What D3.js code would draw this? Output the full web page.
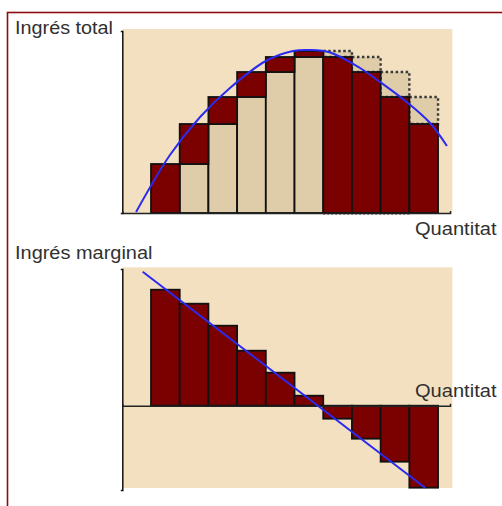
<!DOCTYPE html>
<html>
<head>
<meta charset="utf-8">
<script src="https://cdn.jsdelivr.net/npm/d3@7"></script>
<style>
  html, body { margin: 0; padding: 0; background: #ffffff; }
  svg { display: block; }
  text { font-family: "Liberation Sans", Arial, sans-serif; fill: #303030; }
</style>
</head>
<body>
<svg id="chart" width="502" height="506"></svg>
<script>
// ---- data ----
const quantities = [1, 2, 3, 4, 5, 6, 7, 8, 9, 10];
const totalRevenue = [49, 89, 116, 141, 156, 162, 156, 141, 116, 89];
const marginalRevenue = [116, 102, 80, 55, 33, 10, -13, -33, -56, -82];
// total revenue curve
const trCurveQ = [0.48, 1.66, 2.71, 3.75, 5.0, 5.95, 6.54, 7.24, 8.28, 8.98, 9.95, 10.72, 11.31];
const trCurveV = [1, 58, 96, 125, 152, 162, 163, 160.5, 145, 131, 110, 90, 67];
// marginal revenue line
const mrLineQ = [0.71, 10.55];
const mrLineV = [134, -82];
const labels = { topY: "Ingrés total", bottomY: "Ingrés marginal", x: "Quantitat" };

// ---- colours ----
const panelColor = "#f3e0c0";
const tanColor = "#dfcca8";
const darkRed = "#7b0000";
const blue = "#2a2af0";

const svg = d3.select("#chart");

// frame
svg.append("rect").attr("x", 7.5).attr("y", 12.5).attr("width", 600).attr("height", 600)
  .attr("fill", "none").attr("stroke", "#8b0d0d").attr("stroke-width", 1.6);

// ---- scales ----
const x = d3.scaleLinear().domain([0, 11.5]).range([122.3, 452.4]);
const yTop = d3.scaleLinear().domain([0, 180]).range([213, 33]);
const yBot = d3.scaleLinear().domain([-84, 138]).range([489.7, 267.7]);

// ================= TOP CHART =================
const gTop = svg.append("g");
gTop.append("rect").attr("x", x(0)).attr("y", 29).attr("width", x(11.5) - x(0)).attr("height", yTop(0) - 29)
  .attr("fill", panelColor);

const prev = i => (i === 0 ? 0 : totalRevenue[i - 1]);
const topData = quantities.map((q, i) => ({ q, t: totalRevenue[i], p: prev(i) }));

// dashed boxes (previous total, when total falls)
const falling = topData.filter(d => d.t < d.p);
gTop.selectAll("rect.ghost").data(falling).enter().append("rect").attr("class", "ghost")
  .attr("x", d => x(d.q)).attr("width", d => x(d.q + 1) - x(d.q))
  .attr("y", d => yTop(d.p)).attr("height", d => yTop(d.t) - yTop(d.p))
  .attr("fill", tanColor)
  .attr("stroke", "#3a3a3a").attr("stroke-width", 2.4).attr("stroke-dasharray", "2.5,2.5");
// dotted traces below baseline
gTop.append("line").attr("x1", x(falling[0].q)).attr("x2", x(falling[falling.length - 1].q))
  .attr("y1", yTop(0) + 1.5).attr("y2", yTop(0) + 1.5)
  .attr("stroke", "#999").attr("stroke-width", 1.2).attr("stroke-dasharray", "2,2");

// tan parts (previous total, when total rises)
const rising = topData.filter(d => d.t >= d.p);
gTop.selectAll("rect.base").data(rising.filter(d => d.p > 0)).enter().append("rect").attr("class", "base")
  .attr("x", d => x(d.q)).attr("width", d => x(d.q + 1) - x(d.q))
  .attr("y", d => yTop(d.p)).attr("height", d => yTop(0) - yTop(d.p))
  .attr("fill", tanColor).attr("stroke", "#111").attr("stroke-width", 1.8);
// dark red increments
gTop.selectAll("rect.inc").data(rising).enter().append("rect").attr("class", "inc")
  .attr("x", d => x(d.q)).attr("width", d => x(d.q + 1) - x(d.q))
  .attr("y", d => yTop(d.t)).attr("height", d => yTop(d.p) - yTop(d.t))
  .attr("fill", darkRed).attr("stroke", "#111").attr("stroke-width", 1.8);
// dark red full bars when falling
gTop.selectAll("rect.full").data(falling).enter().append("rect").attr("class", "full")
  .attr("x", d => x(d.q)).attr("width", d => x(d.q + 1) - x(d.q))
  .attr("y", d => yTop(d.t)).attr("height", d => yTop(0) - yTop(d.t))
  .attr("fill", darkRed).attr("stroke", "#111").attr("stroke-width", 1.8);

// axes
gTop.append("g").attr("transform", `translate(${x(0)},0)`)
  .call(d3.axisLeft(d3.scaleLinear().domain([0, 1]).range([yTop(0), 31])).tickValues([]).tickSizeOuter(1.5))
  .call(g => g.select(".domain").attr("stroke", "#111").attr("stroke-width", 1.5));
gTop.append("g").attr("transform", `translate(0,${yTop(0)})`)
  .call(d3.axisBottom(d3.scaleLinear().domain([0, 1]).range([x(0), 450])).tickValues([]).tickSizeOuter(-2))
  .call(g => g.select(".domain").attr("stroke", "#222").attr("stroke-width", 1.5));

// curve
const curvePts = trCurveQ.map((q, i) => [x(q), yTop(trCurveV[i])]);
gTop.append("path").attr("d", d3.line().curve(d3.curveCatmullRom)(curvePts))
  .attr("fill", "none").attr("stroke", blue).attr("stroke-width", 2);

// labels
gTop.append("text").attr("x", 15).attr("y", 34).attr("font-size", 17.5)
  .attr("textLength", 98).attr("lengthAdjust", "spacingAndGlyphs").text(labels.topY);
gTop.append("text").attr("x", 415).attr("y", 235).attr("font-size", 17.5)
  .attr("textLength", 81.5).attr("lengthAdjust", "spacingAndGlyphs").text(labels.x);

// ================= BOTTOM CHART =================
const gBot = svg.append("g");
gBot.append("rect").attr("x", x(0)).attr("y", 267.3).attr("width", x(11.5) - x(0)).attr("height", 488 - 267.3)
  .attr("fill", panelColor);

const botData = quantities.map((q, i) => ({ q, v: marginalRevenue[i] }));
gBot.selectAll("rect.mr").data(botData).enter().append("rect").attr("class", "mr")
  .attr("x", d => x(d.q)).attr("width", d => x(d.q + 1) - x(d.q))
  .attr("y", d => yBot(Math.max(0, d.v))).attr("height", d => Math.abs(yBot(d.v) - yBot(0)))
  .attr("fill", darkRed).attr("stroke", "#111").attr("stroke-width", 1.8);

gBot.append("g").attr("transform", `translate(${x(0)},0)`)
  .call(d3.axisLeft(d3.scaleLinear().domain([0, 1]).range([490, 269])).tickValues([]).tickSizeOuter(1.5))
  .call(g => g.select(".domain").attr("stroke", "#111").attr("stroke-width", 1.5));
gBot.append("g").attr("transform", `translate(0,${yBot(0)})`)
  .call(d3.axisBottom(d3.scaleLinear().domain([0, 1]).range([x(0), 450])).tickValues([]).tickSizeOuter(-2))
  .call(g => g.select(".domain").attr("stroke", "#222").attr("stroke-width", 1.5));

gBot.append("path").attr("d", d3.line()(mrLineQ.map((q, i) => [x(q), yBot(mrLineV[i])])))
  .attr("fill", "none").attr("stroke", blue).attr("stroke-width", 2);

gBot.append("text").attr("x", 15).attr("y", 259).attr("font-size", 17.5)
  .attr("textLength", 137.5).attr("lengthAdjust", "spacingAndGlyphs").text(labels.bottomY);
gBot.append("text").attr("x", 415).attr("y", 396.5).attr("font-size", 17.5)
  .attr("textLength", 81.5).attr("lengthAdjust", "spacingAndGlyphs").text(labels.x);
</script>
</body>
</html>
